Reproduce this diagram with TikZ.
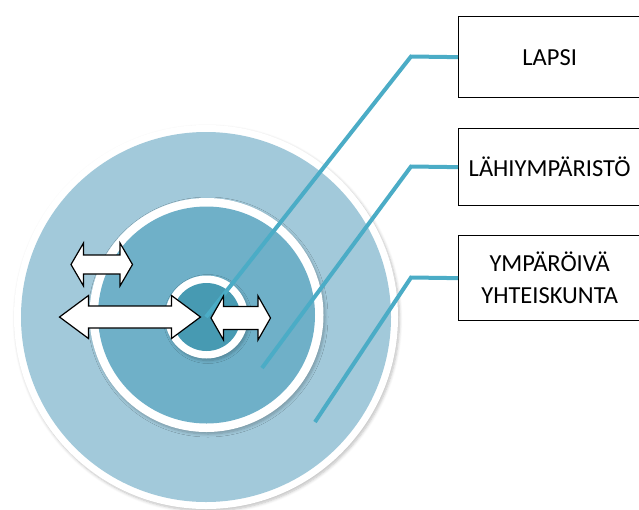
\documentclass[tikz,border=0pt]{standalone}
\usepackage{fontspec}
\setmainfont{Carlito}
\usetikzlibrary{shadows.blur}
\definecolor{outerc}{HTML}{A2C9DA}
\definecolor{midc}{HTML}{6FB0C8}
\definecolor{innerc}{HTML}{479AB2}
\definecolor{linec}{HTML}{4BACC6}
\tikzset{
  ring/.style={fill=white, blur shadow={shadow blur steps=6, shadow xshift=1.5pt, shadow yshift=-2pt, shadow opacity=25, shadow blur radius=3pt}},
  connector/.style={draw=linec, line width=4pt},
  labelbox/.style={draw=black, line width=1.3pt, fill=white, anchor=north west, inner sep=0pt, minimum width=182pt, font=\fontsize{24.5}{32}\selectfont, align=center},
  dblarrow/.style={draw=black, fill=white, line width=1.2pt, line join=miter}
}
\newcommand{\dbarrow}[6]{% x1 x2 yc headlen halfhead halfshaft
  \draw[dblarrow] (#1,#3) -- ({#1+#4},{#3-#5}) -- ({#1+#4},{#3-#6}) -- ({#2-#4},{#3-#6}) -- ({#2-#4},{#3-#5}) -- (#2,#3) -- ({#2-#4},{#3+#5}) -- ({#2-#4},{#3+#6}) -- ({#1+#4},{#3+#6}) -- ({#1+#4},{#3+#5}) -- cycle;}
\begin{document}
\begin{tikzpicture}[x=1pt,y=-1pt]
\useasboundingbox (0,0) rectangle (639,509);
\clip (0,0) rectangle (639,509);
% circles
\fill[ring] (206,317) circle (192);
\fill[outerc] (206,317) circle (185);
\fill[ring] (206.5,315) circle (117);
\fill[midc] (206.5,315) circle (108.5);
\fill[ring] (206.5,317) circle (41.5);
\fill[innerc] (206.5,317) circle (34);
% boxes
\node[labelbox, minimum height=81pt] (b1) at (458,16) {LAPSI};
\node[labelbox, minimum height=77pt] (b2) at (458,128) {LÄHIYMPÄRISTÖ};
\node[labelbox, minimum height=85pt] (b3) at (458,235) {YMPÄRÖIVÄ\\YHTEISKUNTA};
% connectors
\coordinate (k1) at (411,56.5);
\coordinate (k2) at (411,166.5);
\coordinate (k3) at (411,277.5);
\coordinate (e1) at (206,317);
\coordinate (e2) at (262,368);
\coordinate (e3) at (315,422);
\draw[connector] (b1.west) -- (k1) -- (e1);
\draw[connector] (b2.west) -- (k2) -- (e2);
\draw[connector] (b3.west) -- (k3) -- (e3);
% arrows
\dbarrow{71}{132.5}{264.5}{12.5}{21.5}{9.5}
\dbarrow{59.5}{200.5}{317}{29}{21.5}{11}
\dbarrow{211}{270.5}{318}{12.5}{22}{11.5}
\end{tikzpicture}
\end{document}
